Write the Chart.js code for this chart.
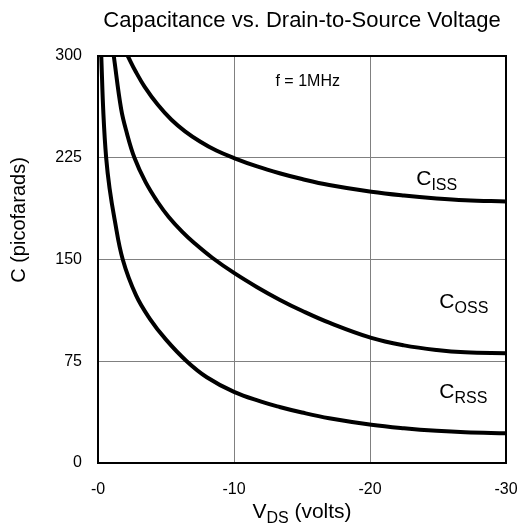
<!DOCTYPE html>
<html>
<head>
<meta charset="utf-8">
<script src="https://cdn.jsdelivr.net/npm/chart.js@4.4.0/dist/chart.umd.min.js"></script>
<style>
  html, body { margin: 0; padding: 0; background: #fff; }
  #wrap { width: 522px; height: 529px; }
</style>
</head>
<body>
<div id="wrap"><canvas id="capChart" width="522" height="529"></canvas></div>
<script>
// Values (V_DS in volts, C in picofarads)
const vdsIss = [-2.19, -2.8, -3.42, -4.4, -5.4, -6.4, -7.5, -8.7, -10, -11.7, -13.35, -15, -17, -20.1, -22.5, -24.9, -27, -30];
const cIss   = [300, 288, 277.5, 264, 253, 244.5, 237, 230.3, 224.8, 218.6, 213.6, 209.3, 204.9, 199.9, 197.1, 195, 193.7, 192.8];

const vdsOss = [-1.16, -1.7, -2.1, -2.68, -3.5, -4.4, -5.2, -6.2, -7.1, -8.4, -10, -11.7, -13.35, -15, -17, -20.1, -22.5, -24.9, -27, -30];
const cOss   = [300, 261, 244, 225, 207, 192.2, 181.4, 170.4, 162, 151.3, 140.1, 129.6, 120.4, 112.2, 103.4, 92.2, 86.7, 83.3, 81.6, 80.9];

const vdsRss = [-0.24, -0.4, -0.6, -0.85, -1.21, -1.82, -2.8, -3.8, -5, -6.5, -8, -10, -12, -13.35, -15, -17, -20.1, -22.5, -24.9, -27, -30];
const cRss   = [300, 256.8, 225, 202.5, 180.2, 150, 123.5, 106.5, 90.9, 75.2, 63.2, 52.4, 45.2, 41.3, 37.2, 33, 28.2, 25.6, 23.7, 22.65, 22];

const xTicks = [0, -10, -20, -30];
const yTicks = [0, 75, 150, 225, 300];

const seriesNames = ['ISS', 'OSS', 'RSS'];

const FONT = "'Liberation Sans', Arial, Helvetica, sans-serif";

function toPoints(xs, ys) {
    return xs.map((x, i) => ({ x: x, y: ys[i] }));
}

function curve(label, xs, ys) {
    return {
        label: label,
        data: toPoints(xs, ys),
        showLine: true,
        borderColor: '#000',
        backgroundColor: '#000',
        borderWidth: 4,
        pointRadius: 0,
        tension: 0.4,
        clip: 0
    };
}

// main letter with a smaller subscript after it
function drawSub(ctx, main, sub, x, y, size, subSize) {
    ctx.font = size + 'px ' + FONT;
    ctx.textAlign = 'left';
    ctx.textBaseline = 'alphabetic';
    ctx.fillText(main, x, y);
    const w = ctx.measureText(main).width;
    ctx.font = subSize + 'px ' + FONT;
    ctx.fillText(sub, x + w, y + Math.round(size * 0.25));
    return w + ctx.measureText(sub).width;
}

const decorations = {
    id: 'decorations',
    afterDraw(chart) {
        const ctx = chart.ctx;
        const a = chart.chartArea;
        const xs = chart.scales.x, ys = chart.scales.y;
        ctx.save();
        ctx.fillStyle = '#000';

        // frame
        ctx.strokeStyle = '#000';
        ctx.lineWidth = 2;
        ctx.strokeRect(a.left, a.top, a.right - a.left, a.bottom - a.top);

        // chart title, centred over the plot
        const cx = (a.left + a.right) / 2;
        ctx.font = '22px ' + FONT;
        ctx.textAlign = 'center';
        ctx.textBaseline = 'alphabetic';
        ctx.fillText('Capacitance vs. Drain-to-Source Voltage', cx, 27);

        // f = 1MHz note
        ctx.font = '16px ' + FONT;
        ctx.textAlign = 'left';
        ctx.fillText('f = 1MHz', xs.getPixelForValue(-13.05), ys.getPixelForValue(278));

        // y axis title
        ctx.save();
        ctx.translate(19, 220);
        ctx.rotate(-Math.PI / 2);
        ctx.font = '20px ' + FONT;
        ctx.textAlign = 'center';
        ctx.textBaseline = 'middle';
        ctx.fillText('C (picofarads)', 0, 0);
        ctx.restore();

        // x axis title with subscript
        ctx.font = '21px ' + FONT;
        const wV = ctx.measureText('V').width;
        ctx.font = '16px ' + FONT;
        const wDS = ctx.measureText('DS').width;
        ctx.font = '21px ' + FONT;
        const wRest = ctx.measureText(' (volts)').width;
        let x0 = cx - (wV + wDS + wRest) / 2;
        const w0 = drawSub(ctx, 'V', 'DS', x0, 518, 21, 16);
        ctx.font = '21px ' + FONT;
        ctx.fillText(' (volts)', x0 + w0, 518);

        // curve labels
        drawSub(ctx, 'C', seriesNames[0], xs.getPixelForValue(-23.4), ys.getPixelForValue(205), 21, 16);
        drawSub(ctx, 'C', seriesNames[1], xs.getPixelForValue(-25.1), ys.getPixelForValue(114), 21, 16);
        drawSub(ctx, 'C', seriesNames[2], xs.getPixelForValue(-25.1), ys.getPixelForValue(47.9), 21, 16);

        ctx.restore();
    }
};

new Chart(document.getElementById('capChart'), {
    type: 'scatter',
    data: {
        datasets: [
            curve('C ISS', vdsIss, cIss),
            curve('C OSS', vdsOss, cOss),
            curve('C RSS', vdsRss, cRss)
        ]
    },
    options: {
        responsive: false,
        devicePixelRatio: 1,
        animation: false,
        events: [],
        layout: { padding: { left: 38, right: 16, top: 56, bottom: 26 } },
        plugins: {
            legend: { display: false },
            title: { display: false },
            tooltip: { enabled: false }
        },
        scales: {
            x: {
                type: 'linear',
                min: -30,
                max: 0,
                reverse: true,
                afterFit: s => { s.height = 40; s.paddingLeft = 0; s.paddingRight = 0; },
                afterBuildTicks: s => { s.ticks = xTicks.map(v => ({ value: v })); },
                border: { display: false },
                grid: { color: '#808080', lineWidth: 1, drawTicks: false },
                ticks: {
                    color: '#000',
                    padding: 17,
                    maxRotation: 0,
                    font: { family: FONT, size: 16 },
                    callback: v => (v === 0 ? '-0' : String(v))
                }
            },
            y: {
                type: 'linear',
                min: 0,
                max: 300,
                afterFit: s => { s.width = 60; s.paddingTop = 0; s.paddingBottom = 0; },
                afterBuildTicks: s => { s.ticks = yTicks.map(v => ({ value: v })); },
                border: { display: false },
                grid: { color: '#808080', lineWidth: 1, drawTicks: false },
                ticks: {
                    color: '#000',
                    padding: 16,
                    font: { family: FONT, size: 16 }
                }
            }
        }
    },
    plugins: [decorations]
});
</script>
</body>
</html>
